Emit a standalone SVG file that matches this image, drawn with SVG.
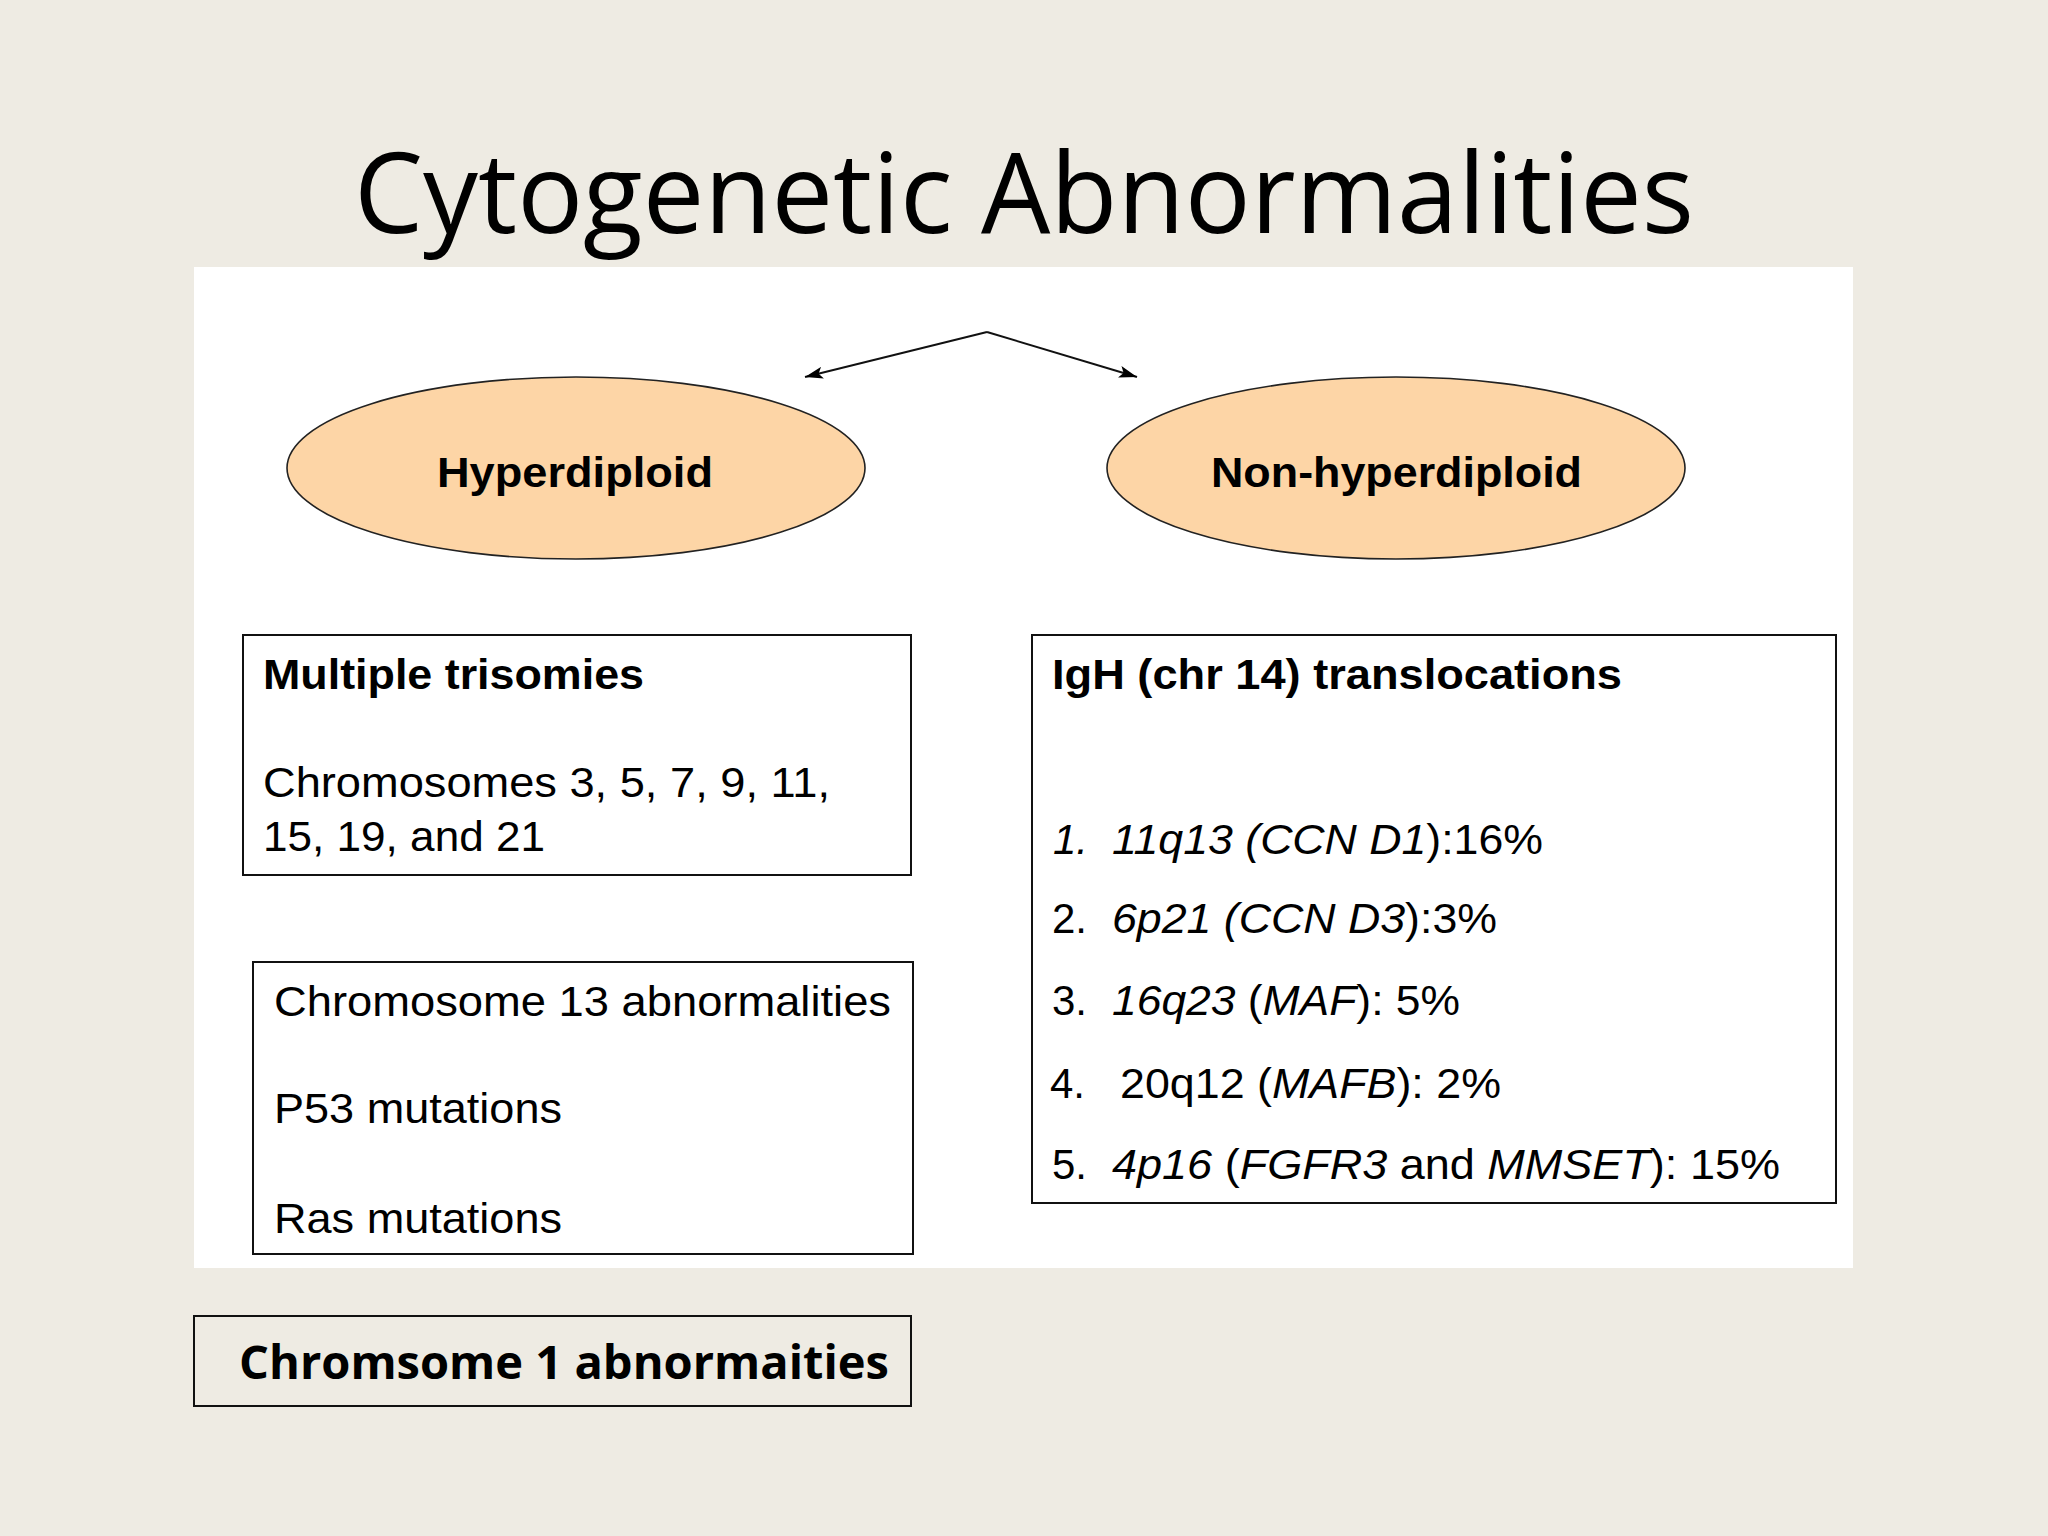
<svg xmlns="http://www.w3.org/2000/svg" width="2048" height="1536" viewBox="0 0 2048 1536">
<defs>
<style>
.t{font-family:"Liberation Sans",Arial,sans-serif;font-size:42px;fill:#000}
.b{font-weight:bold}
.i{font-style:italic}
.n{font-style:normal}
.box{fill:none;stroke:#111;stroke-width:2}
.ell{fill:#FDD5A6;stroke:#222;stroke-width:1.6}
.conn{fill:none;stroke:#111;stroke-width:2}
</style>
<marker id="ah" viewBox="0 0 18 12" refX="18" refY="6" markerWidth="18" markerHeight="12" markerUnits="userSpaceOnUse" orient="auto">
<path d="M0,0 L18,6 L0,12 L4,6 z" fill="#000"/>
</marker>
</defs>
<rect x="0" y="0" width="2048" height="1536" fill="#EEEBE3"/>
<text x="354" y="233" font-family="'Open Sans','Noto Sans',sans-serif" font-size="112" textLength="1340" lengthAdjust="spacingAndGlyphs" fill="#000">Cytogenetic Abnormalities</text>
<rect id="panel" x="194" y="267" width="1659" height="1001" fill="#FFFFFF"/>

<g id="connectors">
<path class="conn" d="M987,332 L805,377" marker-end="url(#ah)" stroke-width="1.8"/>
<path class="conn" d="M987,332 L1137,377" marker-end="url(#ah)" stroke-width="1.8"/>
</g>

<g id="hyperdiploid">
<ellipse class="ell" cx="576" cy="468" rx="289" ry="91"/>
<text class="t b" x="437" y="487" textLength="276" lengthAdjust="spacingAndGlyphs">Hyperdiploid</text>
</g>

<g id="non-hyperdiploid">
<ellipse class="ell" cx="1396" cy="468" rx="289" ry="91"/>
<text class="t b" x="1211" y="487" textLength="371" lengthAdjust="spacingAndGlyphs">Non-hyperdiploid</text>
</g>

<g id="trisomies">
<rect class="box" x="243" y="635" width="668" height="240"/>
<text class="t b" x="263" y="689" textLength="381" lengthAdjust="spacingAndGlyphs">Multiple trisomies</text>
<text class="t" x="263" y="797" textLength="567" lengthAdjust="spacingAndGlyphs">Chromosomes 3, 5, 7, 9, 11,</text>
<text class="t" x="263" y="851" textLength="282" lengthAdjust="spacingAndGlyphs">15, 19, and 21</text>
</g>

<g id="other-abnormalities">
<rect class="box" x="253" y="962" width="660" height="292"/>
<text class="t" x="274" y="1016" textLength="617" lengthAdjust="spacingAndGlyphs">Chromosome 13 abnormalities</text>
<text class="t" x="274" y="1123" textLength="288" lengthAdjust="spacingAndGlyphs">P53 mutations</text>
<text class="t" x="274" y="1233" textLength="288" lengthAdjust="spacingAndGlyphs">Ras mutations</text>
</g>

<g id="igh-translocations">
<rect class="box" x="1032" y="635" width="804" height="568"/>
<text class="t b" x="1052" y="689" textLength="570" lengthAdjust="spacingAndGlyphs">IgH (chr 14) translocations</text>
<text class="t i" x="1053" y="854">1.</text>
<text class="t" x="1112" y="854" textLength="431" lengthAdjust="spacingAndGlyphs"><tspan class="i">11q13 (CCN D1</tspan><tspan>):16%</tspan></text>
<text class="t" x="1052" y="933">2.</text>
<text class="t" x="1112" y="933" textLength="385" lengthAdjust="spacingAndGlyphs"><tspan class="i">6p21 (CCN D3</tspan><tspan>):3%</tspan></text>
<text class="t" x="1052" y="1015">3.</text>
<text class="t" x="1112" y="1015" textLength="348" lengthAdjust="spacingAndGlyphs"><tspan class="i">16q23</tspan><tspan> (</tspan><tspan class="i">MAF</tspan><tspan>): 5%</tspan></text>
<text class="t" x="1050" y="1098">4.</text>
<text class="t" x="1120" y="1098" textLength="381" lengthAdjust="spacingAndGlyphs"><tspan>20q12 (</tspan><tspan class="i">MAFB</tspan><tspan>): 2%</tspan></text>
<text class="t" x="1052" y="1179">5.</text>
<text class="t" x="1112" y="1179" textLength="668" lengthAdjust="spacingAndGlyphs"><tspan class="i">4p16</tspan><tspan> (</tspan><tspan class="i">FGFR3</tspan><tspan> and </tspan><tspan class="i">MMSET</tspan><tspan>): 15%</tspan></text>
</g>

<g id="chromosome-1">
<rect class="box" x="194" y="1316" width="717" height="90"/>
<text x="239" y="1379" font-family="'Open Sans','Noto Sans',sans-serif" font-weight="bold" font-size="46" textLength="650" lengthAdjust="spacingAndGlyphs" fill="#000">Chromsome 1 abnormaities</text>
</g>
</svg>
